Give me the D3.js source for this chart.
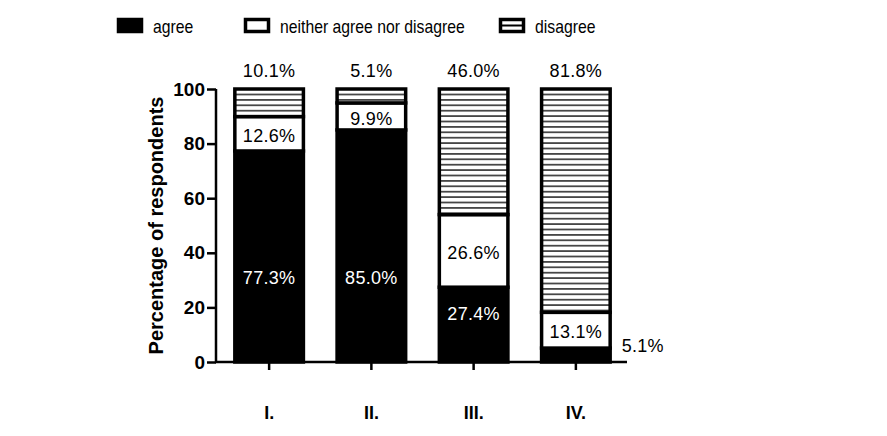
<!DOCTYPE html>
<html><head><meta charset="utf-8">
<script src="https://cdn.jsdelivr.net/npm/d3@7"></script>
<style>body{margin:0;background:#fff;} text{font-family:Arial,"Liberation Sans",sans-serif;}</style>
</head><body><svg id="c" width="887" height="436"></svg>
<script>
const categories = ["I.", "II.", "III.", "IV."];
const agree = [77.3, 85.0, 27.4, 5.1];
const neither = [12.6, 9.9, 26.6, 13.1];
const disagree = [10.1, 5.1, 46.0, 81.8];
const seriesNames = ["agree", "neither agree nor disagree", "disagree"];
const yTicks = [0, 20, 40, 60, 80, 100];

const svg = d3.select("#c");
const defs = svg.append("defs");
const pat = defs.append("pattern").attr("id","hatch").attr("patternUnits","userSpaceOnUse")
  .attr("width",10).attr("height",5.4);
pat.append("rect").attr("width",10).attr("height",5.4).attr("fill","#fff");
pat.append("line").attr("x1",0).attr("x2",10).attr("y1",2.7).attr("y2",2.7).attr("stroke","#000").attr("stroke-width",1.3);

const x = d3.scaleBand().domain(categories).range([218, 627]).paddingInner(0.3).paddingOuter(0.15);
const y = d3.scaleLinear().domain([0,100]).range([362, 89]);

const data = categories.map((c,i)=>({cat:c, agree:agree[i], neither:neither[i], disagree:disagree[i]}));
const stack = d3.stack().keys(["agree","neither","disagree"])(data);
const fills = {agree:"#000", neither:"#fff", disagree:"url(#hatch)"};

stack.forEach(layer=>{
  svg.append("g").selectAll("rect").data(layer).enter().append("rect")
    .attr("x", d=>x(d.data.cat)+1.5)
    .attr("width", x.bandwidth()-3)
    .attr("y", d=>y(Math.min(d[1],100)))
    .attr("height", d=>y(d[0])-y(Math.min(d[1],100)))
    .attr("fill", fills[layer.key])
    .attr("stroke","#000").attr("stroke-width",3.5);
});

const yAxis = svg.append("g").attr("transform","translate(216,0)")
  .call(d3.axisLeft(y).tickValues(yTicks).tickSize(9).tickPadding(2));
yAxis.select(".domain").attr("stroke-width",2.5).attr("d","M0,"+y(100)+"V"+y(0));
yAxis.selectAll(".tick line").attr("stroke-width",2.5);
yAxis.selectAll(".tick text").attr("font-size",19).attr("font-weight","bold").attr("fill","#000")
  .attr("font-family","Arial, 'Liberation Sans', sans-serif");

const xAxis = svg.append("g").attr("transform","translate(0,"+y(0)+")")
  .call(d3.axisBottom(x).tickSize(8).tickPadding(36));
xAxis.select(".domain").attr("stroke-width",2.5).attr("d","M215,0H627");
xAxis.selectAll(".tick line").attr("stroke-width",2.5);
xAxis.selectAll(".tick text").attr("font-size",18).attr("font-weight","bold").attr("fill","#000")
  .attr("font-family","Arial, 'Liberation Sans', sans-serif");

svg.append("text").attr("transform","translate(163,"+((y(0)+y(100))/2)+") rotate(-90)")
  .attr("text-anchor","middle").attr("font-size",20).attr("font-weight","bold").text("Percentage of respondents");

const lab = svg.append("g").attr("font-size",18).attr("letter-spacing","0.3px").attr("text-anchor","middle");
data.forEach(d=>{
  const cx = x(d.cat)+x.bandwidth()/2;
  lab.append("text").attr("x",cx).attr("y",y(100)-12).text(d.disagree.toFixed(1)+"%");
  const nm = d.agree + d.neither/2;
  lab.append("text").attr("x",cx).attr("y",y(nm)+2).attr("dy","0.35em").text(d.neither.toFixed(1)+"%");
  if (d.agree > 10) {
    const am = Math.min(d.agree*0.65, 31);
    lab.append("text").attr("x",cx).attr("y",y(am)).attr("dy","0.35em").attr("fill","#fff").text(d.agree.toFixed(1)+"%");
  } else {
    lab.append("text").attr("x",x(d.cat)+x.bandwidth()+10).attr("y",y(d.agree/2)-3).attr("text-anchor","start").text(d.agree.toFixed(1)+"%");
  }
});

const legend = svg.append("g").attr("font-size",19);
const legX = [117, 244, 499];
seriesNames.forEach((n,i)=>{
  const g = legend.append("g").attr("transform","translate("+legX[i]+",18)");
  g.append("rect").attr("x",1.5).attr("y",1.5).attr("width",23).attr("height",12)
    .attr("fill", i===0?"#000":"#fff").attr("stroke","#000").attr("stroke-width",3.5);
  if (i===2) g.append("line").attr("x1",1.5).attr("x2",24.5).attr("y1",7.5).attr("y2",7.5).attr("stroke","#000").attr("stroke-width",2);
  g.append("text").attr("transform","translate(36,15) scale(0.83,1)").text(n);
});
</script></body></html>
